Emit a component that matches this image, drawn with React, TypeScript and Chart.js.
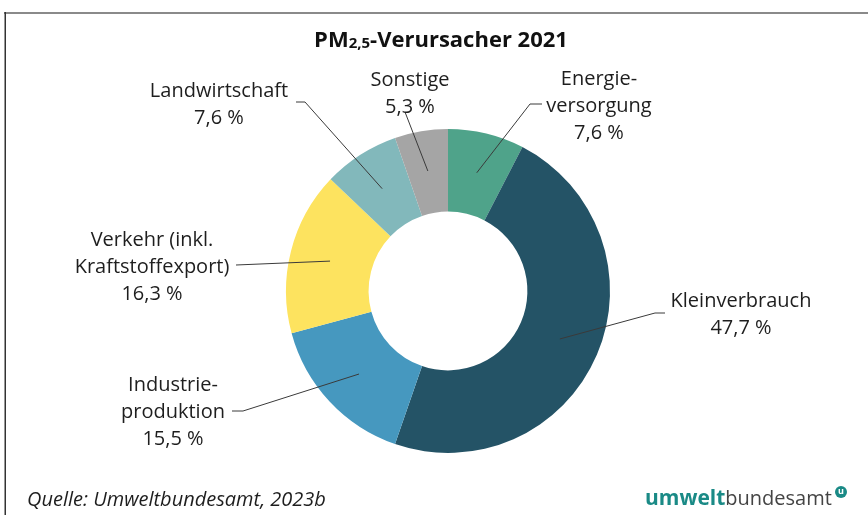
import React, { useEffect, useRef } from "react";
import { Chart, registerables } from "chart.js";

Chart.register(...registerables);

// ---- data ----
const categories = [
  "Energie-\nversorgung",
  "Kleinverbrauch",
  "Industrie-\nproduktion",
  "Verkehr (inkl.\nKraftstoffexport)",
  "Landwirtschaft",
  "Sonstige",
];
const shares = [7.6, 47.7, 15.5, 16.3, 7.6, 5.3];
const colors = ["#4fa38a", "#245366", "#4698bf", "#fde35f", "#82b8bb", "#a5a5a5"];

const titleMain = "PM";
const titleSub = "2,5";
const titleRest = "-Verursacher 2021";
const sourceText = "Quelle: Umweltbundesamt, 2023b";

// ---- label layout (style, not data) ----
// text centre x, first line centre y, leader line start, optional elbow
const labelLayout = [
  { cx: 599, y0: 79, start: [542, 104], elbow: [530, 104] },
  { cx: 741, y0: 301, start: [665, 313], elbow: [655, 313] },
  { cx: 173, y0: 385, start: [232, 411], elbow: [243, 411] },
  { cx: 152, y0: 240, start: [236, 265], elbow: null },
  { cx: 219, y0: 91, start: [296, 102], elbow: [305, 102] },
  { cx: 410, y0: 80, start: [405, 112], elbow: null },
];
const LINE_H = 27;

const FONT = "'Open Sans', 'Noto Sans', sans-serif";

const fmt = (v: number) => v.toFixed(1).replace(".", ",") + " %";

const decorPlugin = {
  id: "decor",
  afterDraw(chart: any) {
    const ctx = chart.ctx as CanvasRenderingContext2D;
    const meta = chart.getDatasetMeta(0);
    ctx.save();

    // frame
    ctx.strokeStyle = "#8a8a8a";
    ctx.lineWidth = 2;
    ctx.beginPath();
    ctx.moveTo(4, 13);
    ctx.lineTo(868, 13);
    ctx.stroke();
    ctx.strokeStyle = "#333";
    ctx.lineWidth = 1.5;
    ctx.beginPath();
    ctx.moveTo(5.25, 12);
    ctx.lineTo(5.25, 515);
    ctx.stroke();

    // title
    ctx.fillStyle = "#111";
    ctx.textBaseline = "alphabetic";
    ctx.textAlign = "left";
    const bigF = `bold 22px ${FONT}`;
    const subF = `bold 15px ${FONT}`;
    ctx.font = bigF;
    const w1 = ctx.measureText(titleMain).width;
    const w3 = ctx.measureText(titleRest).width;
    ctx.font = subF;
    const w2 = ctx.measureText(titleSub).width;
    const total = w1 + w2 + w3;
    let tx = 441 - total / 2;
    const ty = 47;
    ctx.font = bigF;
    ctx.fillText(titleMain, tx, ty);
    tx += w1;
    ctx.font = subF;
    ctx.fillText(titleSub, tx, ty + 1);
    tx += w2;
    ctx.font = bigF;
    ctx.fillText(titleRest, tx, ty);

    // labels + leader lines
    ctx.font = `20px ${FONT}`;
    ctx.textAlign = "center";
    ctx.textBaseline = "middle";
    meta.data.forEach((arc: any, i: number) => {
      const p = arc.getProps(["x", "y", "startAngle", "endAngle", "innerRadius", "outerRadius"], true);
      const mid = (p.startAngle + p.endAngle) / 2;
      const r = (p.innerRadius + p.outerRadius) / 2 + 1;
      const ex = p.x + Math.cos(mid) * r;
      const ey = p.y + Math.sin(mid) * r;
      const L = labelLayout[i];
      ctx.strokeStyle = "#3a3a3a";
      ctx.lineWidth = 1;
      ctx.beginPath();
      ctx.moveTo(L.start[0], L.start[1]);
      if (L.elbow) ctx.lineTo(L.elbow[0], L.elbow[1]);
      ctx.lineTo(ex, ey);
      ctx.stroke();

      const lines = [...categories[i].split("\n"), fmt(shares[i])];
      ctx.fillStyle = "#1e1e1e";
      lines.forEach((t, k) => ctx.fillText(t, L.cx, L.y0 + k * LINE_H));
    });

    // source
    ctx.textAlign = "left";
    ctx.textBaseline = "alphabetic";
    ctx.font = `italic 20px ${FONT}`;
    ctx.fillStyle = "#1e1e1e";
    ctx.fillText(sourceText, 27, 506);

    // logo
    ctx.font = `bold 21px ${FONT}`;
    ctx.fillStyle = "#1a8a86";
    ctx.fillText("umwelt", 645, 505);
    const lw = ctx.measureText("umwelt").width;
    ctx.font = `20px ${FONT}`;
    ctx.fillStyle = "#444";
    ctx.fillText("bundesamt", 645 + lw, 505);
    ctx.fillStyle = "#1a8a86";
    ctx.beginPath();
    ctx.arc(841, 492, 6, 0, Math.PI * 2);
    ctx.fill();
    ctx.fillStyle = "#fff";
    ctx.font = `bold 9px ${FONT}`;
    ctx.textAlign = "center";
    ctx.textBaseline = "middle";
    ctx.fillText("u", 841, 491.5);

    ctx.restore();
  },
};

export default function App() {
  const ref = useRef<HTMLCanvasElement>(null);
  useEffect(() => {
    if (!ref.current) return;
    const chart = new Chart(ref.current, {
      type: "doughnut",
      data: {
        labels: categories.map((c) => c.replace("\n", " ")),
        datasets: [
          {
            data: shares,
            backgroundColor: colors,
            borderWidth: 0,
            hoverOffset: 0,
            offset: 0,
          },
        ],
      },
      options: {
        animation: false,
        responsive: false,
        devicePixelRatio: 1,
        cutout: "49%",
        layout: { padding: { left: 286, right: 258, top: 129, bottom: 62 } },
        plugins: { legend: { display: false }, tooltip: { enabled: false }, title: { display: false } },
        events: [],
      },
      plugins: [decorPlugin],
    } as any);
    return () => chart.destroy();
  }, []);
  return (
    <div style={{ position: "absolute", left: 0, top: 0, width: 868, height: 515, background: "#fff" }}>
      <canvas ref={ref} width={868} height={515} style={{ display: "block" }} />
    </div>
  );
}
